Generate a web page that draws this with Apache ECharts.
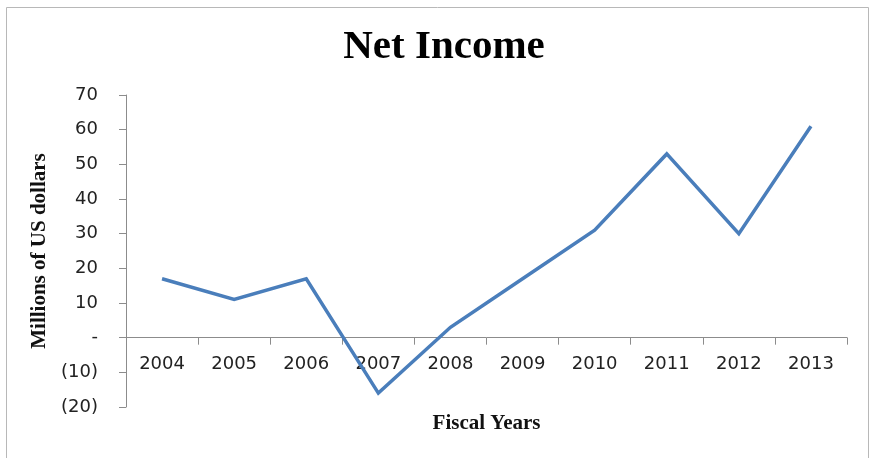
<!DOCTYPE html>
<html>
<head>
<meta charset="utf-8">
<script src="https://cdn.jsdelivr.net/npm/echarts@6/dist/echarts.min.js"></script>
<style>
  html, body { margin: 0; padding: 0; background: #fff; }
  #chart { width: 870px; height: 458px; }
</style>
</head>
<body>
<div id="chart"></div>
<script>
// Fiscal years shown on the category axis
const fiscalYears = ['2004', '2005', '2006', '2007', '2008', '2009', '2010', '2011', '2012', '2013'];
// Net income, millions of US dollars
const netIncome = [17, 11, 17, -16, 3, 17, 31, 53, 30, 61];
// Value axis range and step
const yMin = -20;
const yMax = 70;
const yStep = 10;

// Accounting style: zero as a dash, negatives in parentheses
function formatMoney(v) {
  if (v === 0) return '-';
  if (v < 0) return '(' + Math.abs(v) + ')';
  return String(v);
}

const chart = echarts.init(document.getElementById('chart'), null, { renderer: 'canvas' });

chart.setOption({
  animation: false,
  backgroundColor: '#ffffff',
  title: {
    text: 'Net Income',
    left: 439,
    textAlign: 'center',
    top: 22,
    textStyle: {
      fontFamily: '"Liberation Serif", "Times New Roman", serif',
      fontWeight: 'bold',
      fontSize: 41,
      color: '#000'
    }
  },
  graphic: [{
    type: 'rect',
    shape: { x: 6.5, y: 7.5, width: 862, height: 460 },
    style: { fill: null, stroke: '#b8b8b8', lineWidth: 1 },
    silent: true
  }],
  grid: { left: 126, right: 23, top: 95, bottom: 51, outerBoundsMode: 'none', containLabel: false },
  xAxis: {
    type: 'category',
    data: fiscalYears,
    boundaryGap: true,
    offset: 0,
    axisLine: { onZero: false, lineStyle: { color: '#8c8c8c', width: 1 } },
    axisTick: { show: true, inside: false, length: 7, lineStyle: { color: '#8c8c8c' } },
    axisLabel: {
      margin: 18,
      fontFamily: '"DejaVu Sans", Verdana, sans-serif',
      fontSize: 18,
      color: '#222'
    },
    name: 'Fiscal Years',
    nameLocation: 'middle',
    nameGap: 75,
    nameTextStyle: {
      fontFamily: '"Liberation Serif", "Times New Roman", serif',
      fontWeight: 'bold',
      fontSize: 21,
      color: '#111'
    },
    splitLine: { show: false }
  },
  yAxis: {
    type: 'value',
    min: yMin,
    max: yMax,
    interval: yStep,
    axisLine: { show: true, lineStyle: { color: '#8c8c8c', width: 1 } },
    axisTick: { show: true, inside: false, length: 7, lineStyle: { color: '#8c8c8c' } },
    axisLabel: {
      margin: 28,
      formatter: formatMoney,
      fontFamily: '"DejaVu Sans", Verdana, sans-serif',
      fontSize: 18,
      color: '#222'
    },
    splitLine: { show: false },
    name: 'Millions of US dollars',
    nameLocation: 'middle',
    nameRotate: 90,
    nameGap: 74,
    nameTextStyle: {
      fontFamily: '"Liberation Serif", "Times New Roman", serif',
      fontWeight: 'bold',
      fontSize: 21,
      color: '#111'
    }
  },
  series: [{
    type: 'line',
    data: netIncome,
    showSymbol: false,
    symbol: 'none',
    lineStyle: { color: '#4a7ebb', width: 3.5, join: 'miter' },
    itemStyle: { color: '#4a7ebb' }
  }]
});

// Lift the whole category axis (line, ticks, labels, name) to the zero level
// of the value axis, using the value axis scale to find it.
const zeroY = chart.convertToPixel({ yAxisIndex: 0 }, 0);
const bottomY = chart.convertToPixel({ yAxisIndex: 0 }, yMin);
chart.setOption({ xAxis: { offset: zeroY - bottomY } });
</script>
</body>
</html>
